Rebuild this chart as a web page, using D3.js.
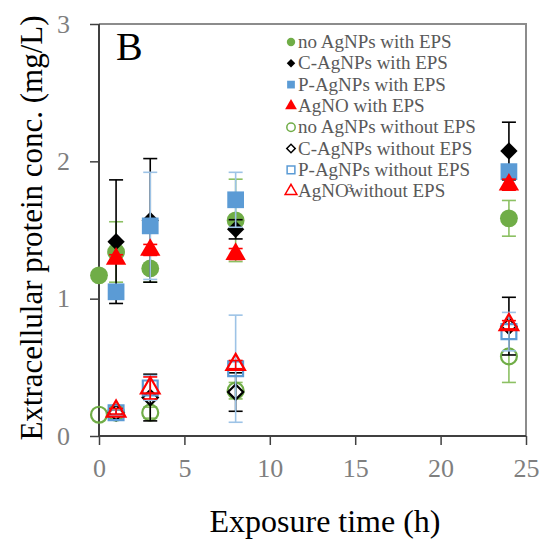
<!DOCTYPE html>
<html>
<head>
<meta charset="utf-8">
<script src="https://cdn.jsdelivr.net/npm/d3@7/dist/d3.min.js"></script>
<style>
  body { margin: 0; background: #fff; }
  text { font-family: "Liberation Serif", "Times New Roman", serif; }
</style>
</head>
<body>
<svg id="chart" width="546" height="545"></svg>
<script>
// tiempos de exposicion (h)
var times = [0, 1, 3, 8, 24];
var xTicks = [0, 5, 10, 15, 20, 25];
var yTicks = [0, 1, 2, 3];

// con EPS
var noAgWith   = [1.17, 1.34, 1.22, 1.57, 1.585];
var noAgWithE  = [0, 0.22, 0.10, 0.30, 0.13];
var cAgWith    = [null, 1.415, 1.57, 1.505, 2.075];
var cAgWithE   = [0, 0.45, 0.45, 0.07, 0.21];
var pAgWith    = [null, 1.05, 1.53, 1.72, 1.925];
var pAgWithE   = [0, 0.05, 0.39, 0.20, 0.05];
var agno3With  = [null, 1.29, 1.355, 1.325, 1.83];
var agno3WithE = [0, 0.03, 0.04, 0.04, 0.04];

// sin EPS
var noAgWo   = [0.155, 0.17, 0.17, 0.33, 0.58];
var noAgWoE  = [0, 0.02, 0.04, 0.06, 0.19];
var cAgWo    = [null, 0.17, 0.28, 0.32, 0.80];
var cAgWoE   = [0, 0.02, 0.17, 0.14, 0.21];
var pAgWo    = [null, 0.17, 0.35, 0.49, 0.76];
var pAgWoE   = [0, 0.02, 0.09, 0.39, 0.14];
var agno3Wo  = [null, 0.18, 0.35, 0.52, 0.81];
var agno3WoE = [0, 0.02, 0.08, 0.03, 0.03];

var legendLabels = [
  "no AgNPs with EPS", "C-AgNPs with EPS", "P-AgNPs with EPS", "AgNO with EPS",
  "no AgNPs without EPS", "C-AgNPs without EPS", "P-AgNPs without EPS", "AgNO3without EPS"
];

var green = "#70AD47", black = "#000000", blue = "#5B9BD5", red = "#FF0000";

// el rombo es un cuadrado girado 45 grados
var series = [
  { vals: noAgWith,  err: noAgWithE,  shape: d3.symbolCircle,   rot: 0,  color: green, fill: true,  size: 250, ecol: "#8cc063" },
  { vals: cAgWith,   err: cAgWithE,   shape: d3.symbolSquare,   rot: 45, color: black, fill: true,  size: 150, ecol: "#000" },
  { vals: pAgWith,   err: pAgWithE,   shape: d3.symbolSquare,   rot: 0,  color: blue,  fill: true,  size: 280, ecol: "#9DC3E6" },
  { vals: agno3With, err: agno3WithE, shape: d3.symbolTriangle, rot: 0,  color: red,   fill: true,  size: 180, ecol: "#FF0000" },
  { vals: noAgWo,    err: noAgWoE,    shape: d3.symbolCircle,   rot: 0,  color: green, fill: false, size: 200, ecol: "#8cc063" },
  { vals: cAgWo,     err: cAgWoE,     shape: d3.symbolSquare,   rot: 45, color: black, fill: false, size: 115, ecol: "#000" },
  { vals: pAgWo,     err: pAgWoE,     shape: d3.symbolSquare,   rot: 0,  color: blue,  fill: false, size: 220, ecol: "#9DC3E6" },
  { vals: agno3Wo,   err: agno3WoE,   shape: d3.symbolTriangle, rot: 0,  color: red,   fill: false, size: 150, ecol: "#FF0000" }
];

var svg = d3.select("#chart");
var x = d3.scaleLinear().domain([0, 25]).range([99, 526]);
var y = d3.scaleLinear().domain([0, 3]).range([436, 24]);

// marco gris arriba y a la derecha
svg.append("path")
  .attr("d", "M" + x(0) + "," + y(3) + "H" + x(25) + "V" + y(0))
  .attr("fill", "none").attr("stroke", "#8c8c8c").attr("stroke-width", 2);

// ejes
var axisCol = "#404040";
var gx = svg.append("g").attr("transform", "translate(0," + y(0) + ")")
  .call(d3.axisBottom(x).tickValues(xTicks).tickFormat(d3.format("d")).tickSize(9).tickPadding(14));
var gy = svg.append("g").attr("transform", "translate(" + x(0) + ",0)")
  .call(d3.axisLeft(y).tickValues(yTicks).tickFormat(d3.format("d")).tickSize(9).tickPadding(20));
[gx, gy].forEach(function(g) {
  g.select(".domain").attr("stroke", axisCol).attr("stroke-width", 2);
  g.selectAll(".tick line").attr("stroke", axisCol).attr("stroke-width", 1.5);
  g.selectAll(".tick text").attr("fill", "#7f7f7f")
    .style("font-family", "Liberation Serif").style("font-size", "26px");
});
gx.select(".domain").attr("d", "M" + x(0) + ",0H" + x(25));
gy.select(".domain").attr("d", "M0," + y(0) + "V" + y(3));

// barras de error y marcadores
var plot = svg.append("g");
series.forEach(function(s) {
  var pts = times.map(function(t, i) { return { t: t, v: s.vals[i], e: s.err[i] }; })
    .filter(function(p) { return p.v !== null; });
  var eb = plot.append("g").attr("stroke", s.ecol).attr("stroke-width", 1.6);
  pts.filter(function(p) { return p.e > 0; }).forEach(function(p) {
    var cx = x(p.t), y0 = y(p.v - p.e), y1 = y(p.v + p.e);
    eb.append("line").attr("x1", cx).attr("x2", cx).attr("y1", y0).attr("y2", y1);
    eb.append("line").attr("x1", cx - 7).attr("x2", cx + 7).attr("y1", y0).attr("y2", y0);
    eb.append("line").attr("x1", cx - 7).attr("x2", cx + 7).attr("y1", y1).attr("y2", y1);
  });
  plot.append("g").selectAll("path").data(pts).enter().append("path")
    .attr("transform", function(p) { return "translate(" + x(p.t) + "," + y(p.v) + ") rotate(" + s.rot + ")"; })
    .attr("d", d3.symbol().type(s.shape).size(s.size))
    .attr("fill", s.fill ? s.color : "none")
    .attr("stroke", s.fill ? "none" : s.color)
    .attr("stroke-width", 2.2);
});

// leyenda
var leg = svg.append("g");
legendLabels.forEach(function(lab, i) {
  var s = series[i], ly = 42 + i * 21.3;
  var small = s.rot ? 36 : (s.shape === d3.symbolCircle ? 55 : 60);
  leg.append("path")
    .attr("transform", "translate(291," + ly + ") rotate(" + s.rot + ")")
    .attr("d", d3.symbol().type(s.shape).size(small))
    .attr("fill", s.fill ? s.color : "none")
    .attr("stroke", s.fill ? "none" : s.color)
    .attr("stroke-width", 1.5);
  var t = leg.append("text").attr("x", 298).attr("y", ly + 6)
    .attr("fill", "#595959").style("font-size", "19px");
  if (i === 7) {
    t.append("tspan").text("AgNO");
    t.append("tspan").attr("dx", -2).attr("dy", -5).style("font-size", "12px").text("3");
    t.append("tspan").attr("dx", -3).attr("dy", 5).text("without EPS");
  } else {
    t.text(lab);
  }
});

// letra del panel
svg.append("text").attr("x", 116).attr("y", 60)
  .style("font-size", "40px").attr("fill", "#000").text("B");

// titulos de ejes
svg.append("text").attr("x", 325).attr("y", 532)
  .attr("text-anchor", "middle").style("font-size", "32px").attr("fill", "#000")
  .text("Exposure time (h)");
svg.append("text").attr("transform", "translate(42,228) rotate(-90)")
  .attr("text-anchor", "middle").style("font-size", "31px").attr("fill", "#000")
  .text("Extracellular protein conc. (mg/L)");
</script>
</body>
</html>
